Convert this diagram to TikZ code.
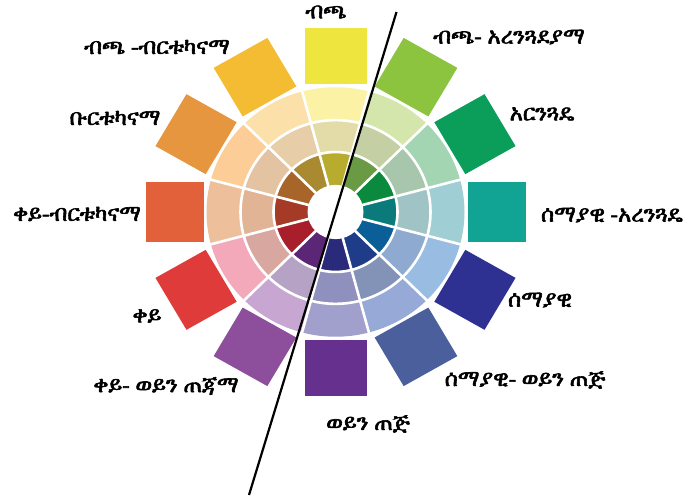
\documentclass[tikz,border=0pt]{standalone}
\usepackage{fontspec}
\IfFontExistsTF{FreeSerif.otf}{\newfontfamily\eth[FakeBold=2.6]{FreeSerif.otf}}{%
 \IfFontExistsTF{FreeSerif}{\newfontfamily\eth[FakeBold=2.6]{FreeSerif}}{%
   \newfontfamily\eth{DejaVu Sans}}}
% outer squares
\definecolor{sq0}{HTML}{EFE53F}\definecolor{sq1}{HTML}{8CC43F}\definecolor{sq2}{HTML}{0A9E5A}
\definecolor{sq3}{HTML}{11A394}\definecolor{sq4}{HTML}{2E3192}\definecolor{sq5}{HTML}{4A5F9C}
\definecolor{sq6}{HTML}{66308F}\definecolor{sq7}{HTML}{8D4F9B}\definecolor{sq8}{HTML}{E03B3B}
\definecolor{sq9}{HTML}{E2613A}\definecolor{sq10}{HTML}{E5963F}\definecolor{sq11}{HTML}{F4BC32}
% ring 3 (outer, pastel)
\definecolor{ra0}{HTML}{FBF2A6}\definecolor{ra1}{HTML}{D5E6AC}\definecolor{ra2}{HTML}{A3D5B3}
\definecolor{ra3}{HTML}{9FCFD5}\definecolor{ra4}{HTML}{99BDE2}\definecolor{ra5}{HTML}{96A9D7}
\definecolor{ra6}{HTML}{A19FCB}\definecolor{ra7}{HTML}{C7A6D2}\definecolor{ra8}{HTML}{F3A9BA}
\definecolor{ra9}{HTML}{EDBF9A}\definecolor{ra10}{HTML}{FCCD97}\definecolor{ra11}{HTML}{FBE0AA}
% ring 2 (middle, greyish)
\definecolor{rb0}{HTML}{E4DCA8}\definecolor{rb1}{HTML}{C4CFA3}\definecolor{rb2}{HTML}{A7C6AC}
\definecolor{rb3}{HTML}{A0C3C6}\definecolor{rb4}{HTML}{8FAAD0}\definecolor{rb5}{HTML}{8393B8}
\definecolor{rb6}{HTML}{9090BF}\definecolor{rb7}{HTML}{B5A2C4}\definecolor{rb8}{HTML}{D8A7A0}
\definecolor{rb9}{HTML}{E2B496}\definecolor{rb10}{HTML}{E4C3A2}\definecolor{rb11}{HTML}{E7CEA8}
% ring 1 (inner, dark)
\definecolor{rc0}{HTML}{B7AC2E}\definecolor{rc1}{HTML}{6A9B44}\definecolor{rc2}{HTML}{0B8A3E}
\definecolor{rc3}{HTML}{0A7B7A}\definecolor{rc4}{HTML}{0B5F98}\definecolor{rc5}{HTML}{1E3C88}
\definecolor{rc6}{HTML}{2A2A7A}\definecolor{rc7}{HTML}{5C2677}\definecolor{rc8}{HTML}{A81F2B}
\definecolor{rc9}{HTML}{A53A26}\definecolor{rc10}{HTML}{A7652A}\definecolor{rc11}{HTML}{A98A31}
\tikzset{
  lbl/.style={font=\eth\fontsize{22.5}{25}\selectfont, inner sep=0pt, text=black},
  gap/.style={draw=white, line width=2.6pt},
  axis/.style={draw=black, line width=2.2pt}
}
\begin{document}
\begin{tikzpicture}[x=1pt,y=1pt]
\useasboundingbox (0,0) rectangle (685,497);
\coordinate (c) at (335.5,285);
\begin{scope}[shift={(335.5,285)},yscale=0.967]
 \foreach \i in {0,...,11}{
   \pgfmathsetmacro\a{90-30*\i}
   \begin{scope}[rotate=\a-90]
     \fill[sq\i] (-31,132) rectangle (31,190);
   \end{scope}
   \fill[ra\i] (0,0) -- (\a-15:129) arc[start angle=\a-15, end angle=\a+15, radius=129] -- cycle;
   \fill[rb\i] (0,0) -- (\a-15:95) arc[start angle=\a-15, end angle=\a+15, radius=95] -- cycle;
   \fill[rc\i] (0,0) -- (\a-15:62) arc[start angle=\a-15, end angle=\a+15, radius=62] -- cycle;
 }
 \draw[gap] (0,0) circle[radius=62];
 \draw[gap] (0,0) circle[radius=95];
 \foreach \i in {0,...,11}{
   \pgfmathsetmacro\b{105-30*\i}
   \draw[gap] (0,0) -- (\b:131);
 }
 \fill[white] (0,0) circle[radius=28];
\end{scope}
\coordinate (ltop) at (396.5,485);
\coordinate (lbot) at (249,2);
\draw[axis] (ltop) -- (lbot);
\node[lbl] (n0) at (326,485) {ብጫ};
\node[lbl] (n1) at (509,460) {ብጫ- አረንጓደያማ};
\node[lbl] (n2) at (542,383) {አርንጓዴ};
\node[lbl, anchor=east] (n3) at (683,282) {ሰማያዊ -አረንጓዴ};
\node[lbl] (n4) at (540,197) {ሰማያዊ};
\node[lbl] (n5) at (525,117) {ሰማያዊ- ወይን ጠጅ};
\node[lbl] (n6) at (368,73) {ወይን ጠጅ};
\node[lbl] (n7) at (166,111) {ቀይ- ወይን ጠጃማ};
\node[lbl] (n8) at (147,181) {ቀይ};
\node[lbl] (n9) at (77,283) {ቀይ-ብርቱካናማ};
\node[lbl] (n10) at (115,379) {ቡርቱካናማ};
\node[lbl] (n11) at (157,450) {ብጫ -ብርቱካናማ};
\end{tikzpicture}
\end{document}
